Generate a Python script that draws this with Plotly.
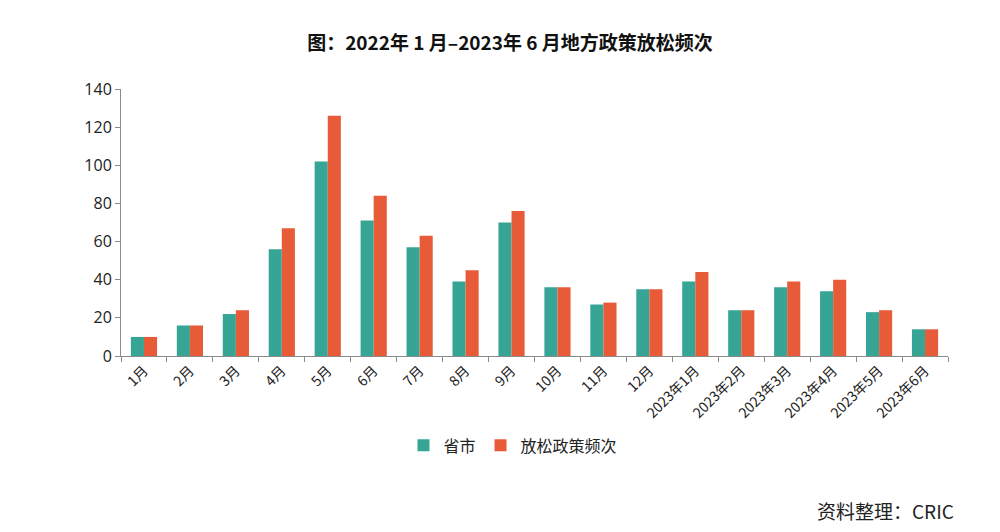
import plotly.graph_objects as go

categories = ["1月", "2月", "3月", "4月", "5月", "6月", "7月", "8月", "9月", "10月", "11月", "12月",
              "2023年1月", "2023年2月", "2023年3月", "2023年4月", "2023年5月", "2023年6月"]
province_city = [10, 16, 22, 56, 102, 71, 57, 39, 70, 36, 27, 35, 39, 24, 36, 34, 23, 14]
policy_freq = [10, 16, 24, 67, 126, 84, 63, 45, 76, 36, 28, 35, 44, 24, 39, 40, 24, 14]
series_names = ["省市", "放松政策频次"]
y_ticks = [0, 20, 40, 60, 80, 100, 120, 140]

font_cjk = "Noto Sans CJK SC, Noto Sans, sans-serif"

fig = go.Figure()
fig.add_trace(go.Bar(x=categories, y=province_city, name=series_names[0],
                     marker=dict(color="#36a596", line=dict(width=0))))
fig.add_trace(go.Bar(x=categories, y=policy_freq, name=series_names[1],
                     marker=dict(color="#e85b38", line=dict(width=0))))

fig.update_layout(
    width=1000, height=532,
    margin=dict(l=121, r=52, t=89, b=176),
    paper_bgcolor="white", plot_bgcolor="white",
    barmode="group", bargap=0.43, bargroupgap=0,
    title=dict(text="<b>图：2022年 1 月–2023年 6 月地方政策放松频次</b>",
               x=0.51, xanchor="center", y=0.918, yanchor="middle",
               font=dict(family=font_cjk, size=19, color="#111")),
    legend=dict(orientation="h", x=0.474, xanchor="center", y=-0.335, yanchor="middle",
                font=dict(family=font_cjk, size=16, color="#222"),
                itemwidth=30, traceorder="normal"),
    showlegend=True,
)
fig.update_xaxes(type="category", showline=True, linecolor="#8a8a8a", linewidth=1,
                 ticks="outside", tickson="boundaries", ticklen=5, tickcolor="#8a8a8a",
                 tickangle=-45, tickfont=dict(family=font_cjk, size=14, color="#222"),
                 showgrid=False)
fig.update_yaxes(range=[0, 140], tickvals=y_ticks, showline=True, linecolor="#8a8a8a",
                 linewidth=1, ticks="outside", ticklen=5, tickcolor="#8a8a8a",
                 tickfont=dict(family="Open Sans, DejaVu Sans, sans-serif", size=16, color="#222"),
                 showgrid=False, zeroline=False)

fig.add_annotation(text="资料整理：CRIC", xref="paper", yref="paper",
                   x=1.01, xanchor="right", y=-0.58, yanchor="middle", showarrow=False,
                   font=dict(family=font_cjk, size=19, color="#222"))

fig.write_html("out.html")
